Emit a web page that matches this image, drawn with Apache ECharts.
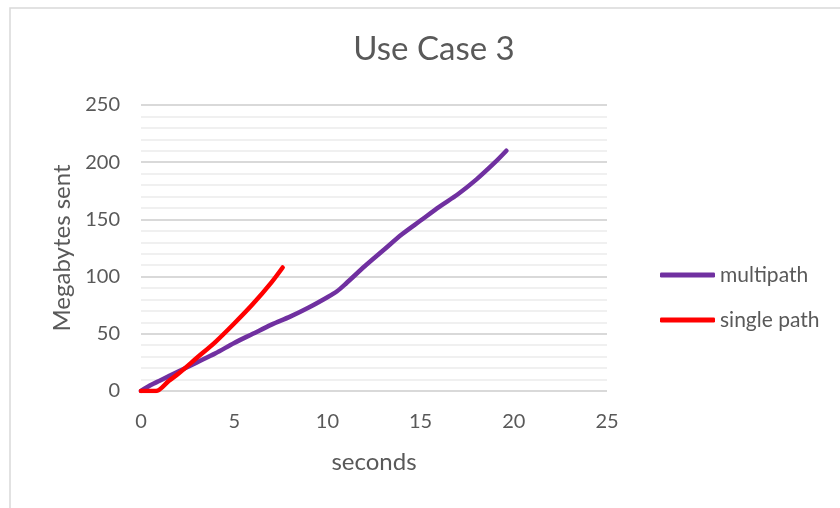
<!DOCTYPE html>
<html>
<head>
<meta charset="utf-8">
<script src="https://cdn.jsdelivr.net/npm/echarts@6/dist/echarts.min.js"></script>
<style>
html,body{margin:0;padding:0;background:#fff;}
#chart{width:840px;height:508px;}
</style>
</head>
<body>
<div id="chart"></div>
<script>
const titleText = 'Use Case 3';
const xAxisName = 'seconds';
const yAxisName = 'Megabytes sent';
const multipathX = [0, 0.5, 1, 2, 3, 4, 5, 6, 7, 8, 9, 10, 10.5, 11, 12, 13, 14, 15, 16, 17, 18, 19, 19.6];
const multipathY = [0, 5, 9, 17, 25, 33, 42, 50, 58, 65, 73, 82, 87, 94, 109, 123, 137, 149, 161, 172, 185, 200, 210];
const singleX = [0, 0.8, 1.5, 2, 3, 4, 5, 6, 7, 7.6];
const singleY = [0, 0, 9, 15, 29, 43, 59, 76, 95, 108];
const seriesNames = ['multipath', 'single path'];

const font = 'Lato, "Open Sans", sans-serif';
const gray = '#595959';

const chart = echarts.init(document.getElementById('chart'));
chart.setOption({
  animation: false,
  backgroundColor: '#fff',
  graphic: [{
    type: 'rect',
    shape: {x: 10, y: 8, width: 840, height: 510},
    style: {fill: 'none', stroke: '#d9d9d9', lineWidth: 1.5},
    silent: true
  }],
  title: {
    text: titleText,
    left: 429, top: 28, textAlign: 'center',
    textStyle: {fontFamily: font, fontSize: 33, fontWeight: 'normal', color: gray}
  },
  legend: {
    orient: 'vertical',
    left: 655, top: 258,
    icon: 'roundRect',
    itemWidth: 55, itemHeight: 5, itemGap: 21,
    textStyle: {fontFamily: font, fontSize: 21, color: gray, lineHeight: 24},
    data: seriesNames
  },
  grid: {left: 141, right: 233, top: 105, bottom: 117},
  xAxis: {
    type: 'value', min: 0, max: 25, interval: 5,
    name: xAxisName, nameLocation: 'middle', nameGap: 59,
    nameTextStyle: {fontFamily: font, fontSize: 24, color: gray},
    axisLine: {show: false}, axisTick: {show: false},
    splitLine: {show: false},
    axisLabel: {fontFamily: font, fontSize: 20, color: gray, margin: 21}
  },
  yAxis: {
    type: 'value', min: 0, max: 250, interval: 50,
    name: yAxisName, nameLocation: 'middle', nameGap: 67, nameRotate: 90,
    nameTextStyle: {fontFamily: font, fontSize: 24, color: gray},
    axisLine: {show: false}, axisTick: {show: false},
    axisLabel: {fontFamily: font, fontSize: 20, color: gray, margin: 21},
    splitLine: {show: true, lineStyle: {color: '#d9d9d9', width: 2}},
    minorTick: {show: false, splitNumber: 5},
    minorSplitLine: {show: true, lineStyle: {color: '#f0f0f0', width: 2}}
  },
  series: [
    {
      name: seriesNames[0], type: 'line', showSymbol: false, symbol: 'none', smooth: 0.3,
      data: multipathX.map((x, i) => [x, multipathY[i]]),
      lineStyle: {color: '#7030A0', width: 4.5, cap: 'round', join: 'round'},
      itemStyle: {color: '#7030A0'}, z: 2
    },
    {
      name: seriesNames[1], type: 'line', showSymbol: false, symbol: 'none', smooth: 0.3,
      data: singleX.map((x, i) => [x, singleY[i]]),
      lineStyle: {color: '#FF0000', width: 4.5, cap: 'round', join: 'round'},
      itemStyle: {color: '#FF0000'}, z: 3
    }
  ]
});
</script>
</body>
</html>
